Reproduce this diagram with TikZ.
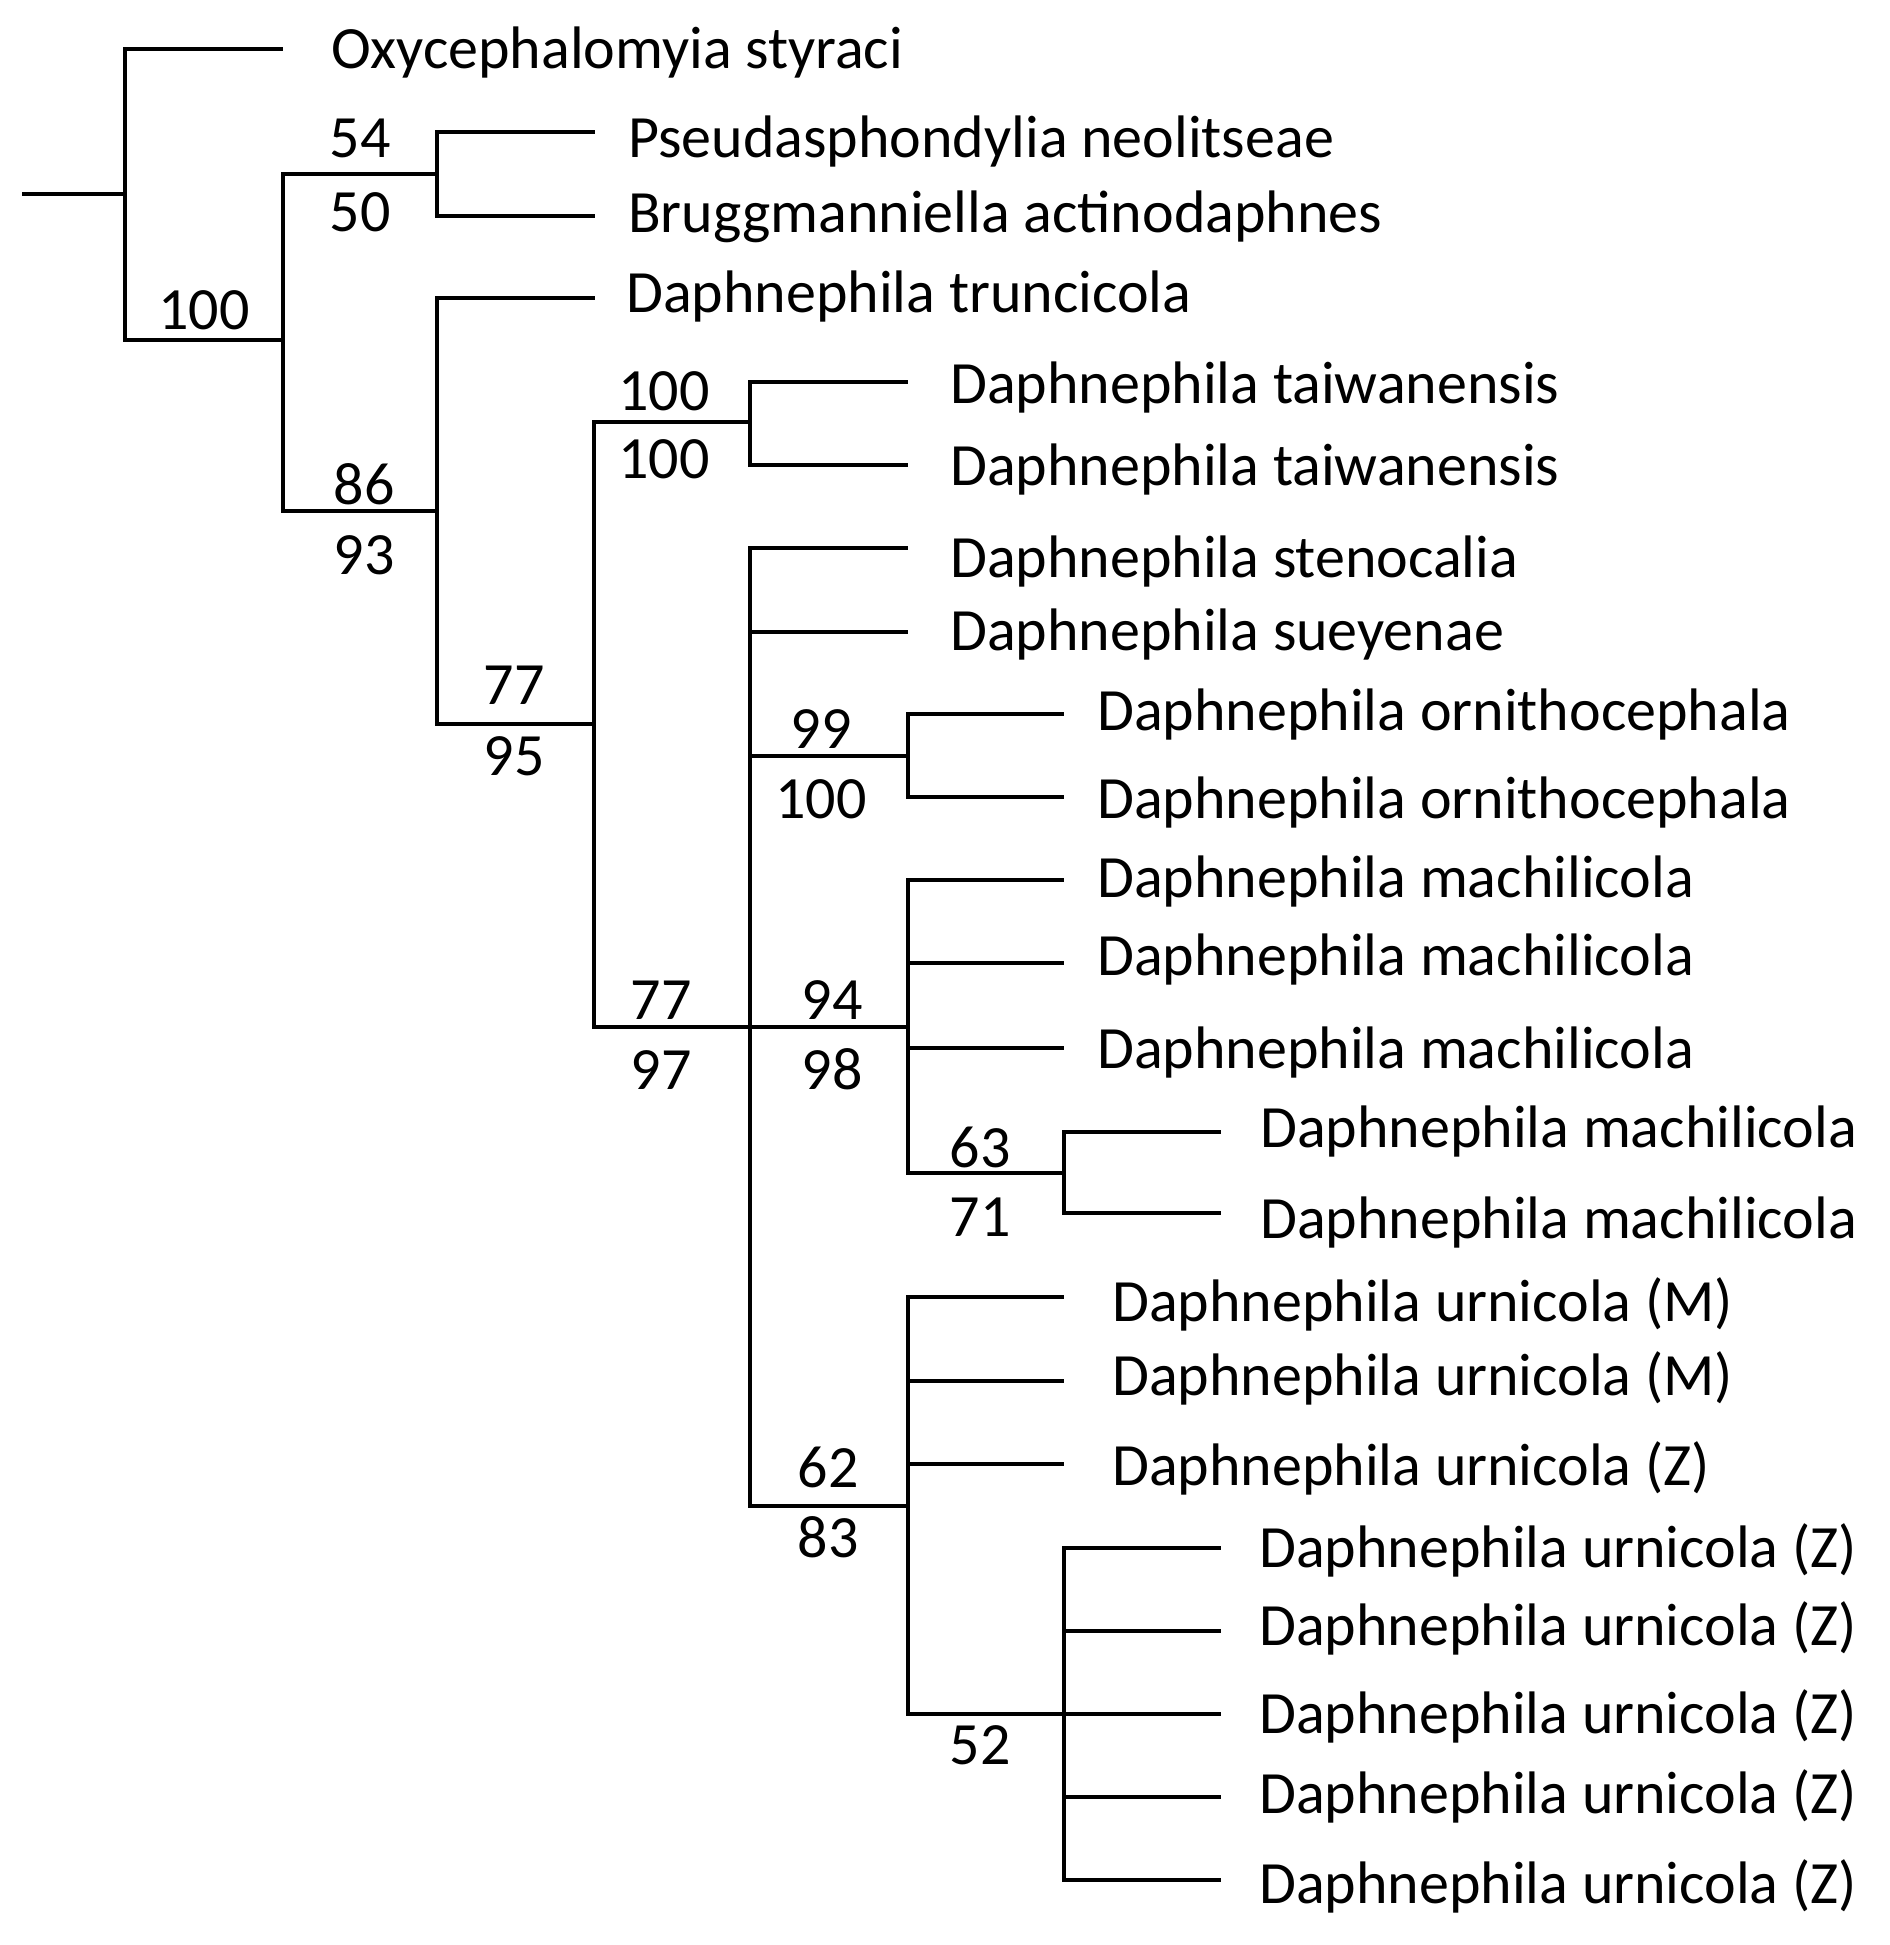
\documentclass[tikz,border=0pt]{standalone}
\usepackage{fontspec}
\setmainfont{Carlito}
\begin{document}
\begin{tikzpicture}[x=1pt,y=-1pt,
  branch/.style={draw=black, line width=4pt},
  taxon/.style={anchor=base west, inner sep=0pt, font=\fontsize{60}{72}\selectfont},
  bsval/.style={anchor=base, inner sep=0pt, font=\fontsize{60}{72}\selectfont}]
\useasboundingbox (0,0) rectangle (1889,1945);
% internal nodes
\coordinate (r) at (22,194);
\coordinate (n1) at (125,194);
\coordinate (n2) at (283,340);
\coordinate (n3) at (437,174);
\coordinate (n4) at (437,511);
\coordinate (n5) at (594,724);
\coordinate (n6) at (750,422);
\coordinate (n7) at (750,1027);
\coordinate (n8) at (908,756);
\coordinate (n9) at (908,1027);
\coordinate (n10) at (1064,1173);
\coordinate (n11) at (908,1506);
\coordinate (n12) at (1064,1714);
% tips
\coordinate (e1) at (283,49);
\coordinate (e2) at (595,132);
\coordinate (e3) at (595,216);
\coordinate (e4) at (595,298);
\coordinate (e5) at (908,382);
\coordinate (e6) at (908,465);
\coordinate (e7) at (908,548);
\coordinate (e8) at (908,632);
\coordinate (e9) at (1064,714);
\coordinate (e10) at (1064,797);
\coordinate (e11) at (1064,880);
\coordinate (e12) at (1064,963);
\coordinate (e13) at (1064,1048);
\coordinate (e14) at (1221,1132);
\coordinate (e15) at (1221,1213);
\coordinate (e16) at (1064,1297);
\coordinate (e17) at (1064,1381);
\coordinate (e18) at (1064,1464);
\coordinate (e19) at (1221,1548);
\coordinate (e20) at (1221,1631);
\coordinate (e21) at (1221,1714);
\coordinate (e22) at (1221,1797);
\coordinate (e23) at (1221,1880);
% branches
\draw[branch] (r) -- (n1);
\draw[branch] (n1) |- (e1);
\draw[branch] (n1) |- (n2);
\draw[branch] (n2) |- (n3);
\draw[branch] (n2) |- (n4);
\draw[branch] (n3) |- (e2);
\draw[branch] (n3) |- (e3);
\draw[branch] (n4) |- (e4);
\draw[branch] (n4) |- (n5);
\draw[branch] (n5) |- (n6);
\draw[branch] (n5) |- (n7);
\draw[branch] (n6) |- (e5);
\draw[branch] (n6) |- (e6);
\draw[branch] (n7) |- (e7);
\draw[branch] (n7) |- (e8);
\draw[branch] (n7) |- (n8);
\draw[branch] (n7) |- (n9);
\draw[branch] (n7) |- (n11);
\draw[branch] (n8) |- (e9);
\draw[branch] (n8) |- (e10);
\draw[branch] (n9) |- (e11);
\draw[branch] (n9) |- (e12);
\draw[branch] (n9) |- (e13);
\draw[branch] (n9) |- (n10);
\draw[branch] (n10) |- (e14);
\draw[branch] (n10) |- (e15);
\draw[branch] (n11) |- (e16);
\draw[branch] (n11) |- (e17);
\draw[branch] (n11) |- (e18);
\draw[branch] (n11) |- (n12);
\draw[branch] (n12) |- (e19);
\draw[branch] (n12) |- (e20);
\draw[branch] (n12) |- (e21);
\draw[branch] (n12) |- (e22);
\draw[branch] (n12) |- (e23);
% taxon labels
\node[taxon] (t1) at (331,69) {Oxycephalomyia styraci};
\node[taxon] (t2) at (628,158) {Pseudasphondylia neolitseae};
\node[taxon] (t3) at (628,232) {Bruggmanniella actinodaphnes};
\node[taxon] (t4) at (626,312) {Daphnephila truncicola};
\node[taxon] (t5) at (950,403) {Daphnephila taiwanensis};
\node[taxon] (t6) at (950,485) {Daphnephila taiwanensis};
\node[taxon] (t7) at (950,577) {Daphnephila stenocalia};
\node[taxon] (t8) at (950,650) {Daphnephila sueyenae};
\node[taxon] (t9) at (1097,730) {Daphnephila ornithocephala};
\node[taxon] (t10) at (1097,818) {Daphnephila ornithocephala};
\node[taxon] (t11) at (1097,897) {Daphnephila machilicola};
\node[taxon] (t12) at (1097,975) {Daphnephila machilicola};
\node[taxon] (t13) at (1097,1068) {Daphnephila machilicola};
\node[taxon] (t14) at (1260,1147) {Daphnephila machilicola};
\node[taxon] (t15) at (1260,1238) {Daphnephila machilicola};
\node[taxon] (t16) at (1112,1321) {Daphnephila urnicola (M)};
\node[taxon] (t17) at (1112,1395) {Daphnephila urnicola (M)};
\node[taxon] (t18) at (1112,1485) {Daphnephila urnicola (Z)};
\node[taxon] (t19) at (1259,1567) {Daphnephila urnicola (Z)};
\node[taxon] (t20) at (1259,1645) {Daphnephila urnicola (Z)};
\node[taxon] (t21) at (1259,1733) {Daphnephila urnicola (Z)};
\node[taxon] (t22) at (1259,1813) {Daphnephila urnicola (Z)};
\node[taxon] (t23) at (1259,1903) {Daphnephila urnicola (Z)};
% support values
\node[bsval] (b1) at (204,329) {100};
\node[bsval] (b2) at (360,158) {54};
\node[bsval] (b3) at (360,231) {50};
\node[bsval] (b4) at (364,504) {86};
\node[bsval] (b5) at (364,574) {93};
\node[bsval] (b6) at (664,410) {100};
\node[bsval] (b7) at (664,478) {100};
\node[bsval] (b8) at (514,704) {77};
\node[bsval] (b9) at (514,775) {95};
\node[bsval] (b10) at (821,748) {99};
\node[bsval] (b11) at (821,818) {100};
\node[bsval] (b12) at (661,1019) {77};
\node[bsval] (b13) at (661,1089) {97};
\node[bsval] (b14) at (832,1019) {94};
\node[bsval] (b15) at (832,1089) {98};
\node[bsval] (b16) at (980,1167) {63};
\node[bsval] (b17) at (980,1236) {71};
\node[bsval] (b18) at (828,1487) {62};
\node[bsval] (b19) at (828,1557) {83};
\node[bsval] (b20) at (980,1764) {52};
\end{tikzpicture}
\end{document}
